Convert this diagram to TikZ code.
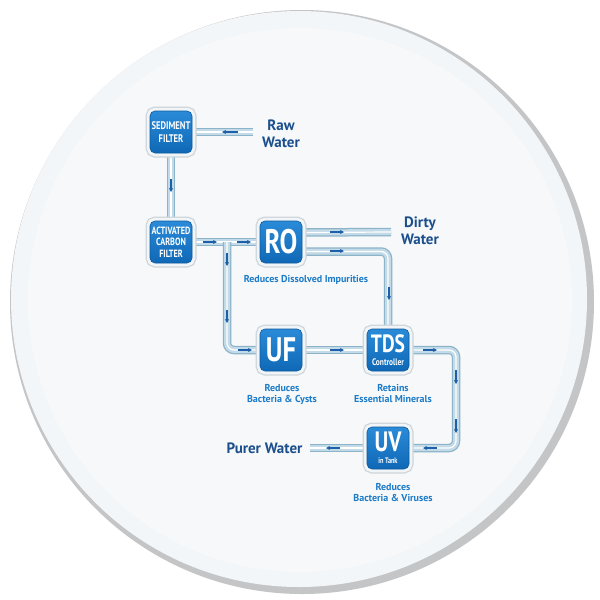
\documentclass[tikz,border=0pt]{standalone}
\usepackage{fontspec}
\setmainfont{PT Sans}
\newfontfamily\boxfont[FakeStretch=0.78]{PT Sans}
\usetikzlibrary{arrows.meta}

\definecolor{navy}{HTML}{1B4F8C}
\definecolor{capblue}{HTML}{1C7BC8}
\definecolor{boxtop}{HTML}{2A8BD8}
\definecolor{boxbot}{HTML}{0F68B6}
\definecolor{boxedge}{HTML}{0B5A9E}
\definecolor{boxframe}{HTML}{F2F5F7}
\definecolor{frameshade}{HTML}{CDD4DA}
\definecolor{pipeedge}{HTML}{8DB3C8}
\definecolor{pipefill}{HTML}{C3DBE8}
\definecolor{flowblue}{HTML}{1D5FA8}
\definecolor{rimshadow}{HTML}{C4C5C6}
\definecolor{rimlight}{HTML}{F3F6F8}
\definecolor{disklight}{HTML}{F6F8F9}
\definecolor{diskmid}{HTML}{F0F2F4}
\definecolor{diskedge}{HTML}{DCE0E3}

\pgfdeclareradialshading{disk}{\pgfpoint{2bp}{-2bp}}{color(0bp)=(disklight); color(36bp)=(disklight); color(44bp)=(diskmid); color(50bp)=(diskedge); color(60bp)=(diskedge)}
\pgfdeclarelayer{back}
\pgfdeclarelayer{pipes}
\pgfsetlayers{back,pipes,main}

\begin{document}
\begin{tikzpicture}[x=1pt,y=-1pt,
    filter/.style={rectangle, rounded corners=5pt, minimum size=42pt, inner sep=1pt,
      top color=boxtop, bottom color=boxbot, draw=boxedge, line width=0.6pt,
      text=white, align=center,
      preaction={draw=frameshade, line width=9pt},
      preaction={draw=boxframe, line width=6.5pt}},
    pipe/.style={line width=8.5pt, draw=pipeedge, rounded corners=7pt,
      postaction={draw=pipefill, line width=6pt},
      postaction={draw=white, line width=1.2pt}},
    flow/.style={-{Stealth[length=4pt,width=4pt]}, draw=flowblue, line width=1.3pt},
    title/.style={text=navy, align=center, font=\bfseries\fontsize{15}{16.5}\selectfont},
    note/.style={text=capblue, align=center, font=\bfseries\fontsize{10}{11}\selectfont}] % water purification flow
  \useasboundingbox (0,0) rectangle (600,600);
  \begin{pgfonlayer}{back}
    \fill[white] (0,0) rectangle (600,600);
    \fill[rimshadow] (302,302) circle (292);
    \fill[rimlight] (299,299) circle (288);
    \shade[shading=disk] (300,300) circle (272);
  \end{pgfonlayer}

  \node[filter, font=\boxfont\bfseries\fontsize{11}{12.5}\selectfont] (sed) at (171,132) {SEDIMENT\\FILTER};
  \node[filter, font=\boxfont\bfseries\fontsize{10.5}{11.5}\selectfont] (act) at (171,242) {ACTIVATED\\CARBON\\FILTER};
  \node[filter, font=\boxfont\bfseries\fontsize{34}{34}\selectfont] (ro) at (281,242) {RO};
  \node[filter, font=\boxfont\bfseries\fontsize{34}{34}\selectfont] (uf) at (281,350) {UF};
  \node[filter, font=\boxfont\bfseries\fontsize{9.5}{9.5}\selectfont] (tds) at (388,350) {{\fontsize{25}{25}\selectfont TDS}\\[4pt]Controller};
  \node[filter, font=\boxfont\bfseries\fontsize{8}{8}\selectfont] (uv) at (388,448) {{\fontsize{28}{28}\selectfont UV}\\[4pt]in Tank};

  \coordinate (rawin) at (253,132);
  \coordinate (tee) at (227,242);
  \coordinate (drain) at (391,232);
  \coordinate (purer) at (310,448);

  \begin{pgfonlayer}{pipes}
    \draw[pipe] (rawin) -- (sed.east);
    \draw[pipe] (sed.south) -- (act.north);
    \draw[pipe] (act.east) -- (ro.west);
    \draw[pipe] (tee) |- (uf.west);
    \draw[pipe] ([yshift=9.5pt]ro.east) -- (drain);
    \draw[pipe] ([yshift=-9.5pt]ro.east) -| (tds.north);
    \draw[pipe] (uf.east) -- (tds.west);
    \draw[pipe] (tds.east) -- (456,350) -- (456,448) -- (uv.east);
    \draw[pipe] (uv.west) -- (purer);
  \end{pgfonlayer}

  \draw[flow] (238,132) -- (222,132);
  \draw[flow] (171,179) -- (171,192);
  \draw[flow] (203,242) -- (217,242);
  \draw[flow] (237,242) -- (251,242);
  \draw[flow] (227,253) -- (227,266);
  \draw[flow] (227,310) -- (227,323);
  \draw[flow] (238,350) -- (252,350);
  \draw[flow] (330,232) -- (344,232);
  \draw[flow] (330,251) -- (344,251);
  \draw[flow] (389,287) -- (389,300);
  \draw[flow] (330,350) -- (344,350);
  \draw[flow] (423,350) -- (437,350);
  \draw[flow] (456,370) -- (456,384);
  \draw[flow] (456,419) -- (456,433);
  \draw[flow] (437,448) -- (423,448);
  \draw[flow] (340,448) -- (326,448);

  \node[title] (rawtxt) at (281,134) {Raw\\Water};
  \node[title] (dirtytxt) at (420,231) {Dirty\\Water};
  \node[title, anchor=east] (purertxt) at (306,448) {Purer Water};
  \node[note] (rotxt) at (306,280) {Reduces Dissolved Impurities};
  \node[note] (uftxt) at (282,394) {Reduces\\Bacteria \& Cysts};
  \node[note] (tdstxt) at (393,394) {Retains\\Essential Minerals};
  \node[note] (uvtxt) at (393,493) {Reduces\\Bacteria \& Viruses};
\end{tikzpicture}
\end{document}
